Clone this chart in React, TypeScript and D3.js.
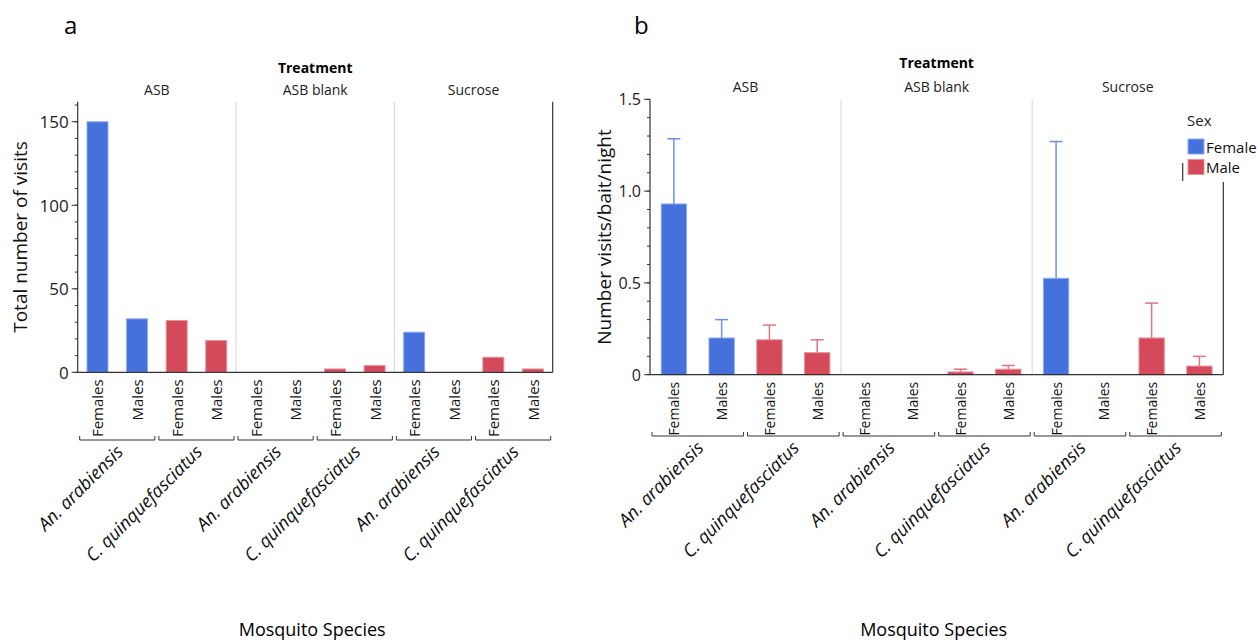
import React from "react";
import * as d3 from "d3";

// Categories
const treatments = ["ASB", "ASB blank", "Sucrose"];
const species = ["An. arabiensis", "C. quinquefasciatus"];
const sexes = ["Females", "Males"];
const legendLabels = ["Female", "Male"];

// Panel a: total number of visits (order: An. F, An. M, C. F, C. M)
const totalASB = [150, 32, 31, 19];
const totalBlank = [0, 0, 2, 4];
const totalSucrose = [24, 0, 9, 2];

// Panel b: mean visits per bait per night and upper error limit
const meanASB = [0.93, 0.2, 0.19, 0.12];
const meanBlank = [0, 0, 0.015, 0.03];
const meanSucrose = [0.525, 0, 0.2, 0.047];
const upperASB = [1.285, 0.3, 0.27, 0.19];
const upperBlank = [null, null, 0.03, 0.05];
const upperSucrose = [1.27, null, 0.39, 0.1];

const yTicksA = [0, 50, 100, 150];
const yTicksB = [0, 0.5, 1.0, 1.5];

const BLUE = "#4471dc";
const RED = "#d44a5a";
const BLUE_LIGHT = "#8eaaf0";
const RED_LIGHT = "#e8909a";
const BLUE_ERR = "#6b8ff0";
const RED_ERR = "#e07480";
const FONT = "'Open Sans', sans-serif";

type Row = { key: string; t: number; s: number; x: number; v: number; up: number | null };

function buildRows(vals: number[][], ups: (number | null)[][] | null): Row[] {
  const rows: Row[] = [];
  treatments.forEach((_, t) => {
    species.forEach((__, s) => {
      sexes.forEach((___, x) => {
        const i = s * 2 + x;
        rows.push({
          key: `${t}-${s}-${x}`,
          t,
          s,
          x,
          v: vals[t][i],
          up: ups ? ups[t][i] : null,
        });
      });
    });
  });
  return rows;
}

type PanelProps = {
  letter: string;
  letterX: number;
  x0: number;
  x1: number;
  yTop: number;
  yZero: number;
  yMax: number;
  rows: Row[];
  majorTicks: number[];
  minorStep: number;
  fmt: (v: number) => string;
  yTitle: string;
  yTitleX: number;
  tickFont: number;
  titleFont: number;
  catFont: number;
  speciesFont: number;
  treatY: number;
  headY: number;
  bracketY: number;
  borderTop: number;
  errors: boolean;
};

function Panel(p: PanelProps) {
  const y = d3.scaleLinear().domain([0, p.yMax]).range([p.yZero, p.yTop]);
  const keys = p.rows.map((r) => r.key);
  const x = d3
    .scaleBand<string>()
    .domain(keys)
    .range([p.x0, p.x1])
    .paddingInner(0.47)
    .paddingOuter(0.235);
  const step = x.step();
  const panelW = (p.x1 - p.x0) / treatments.length;
  const minor = d3.range(0, p.yMax + 1e-9, p.minorStep);
  const cx = (k: string) => (x(k) as number) + x.bandwidth() / 2;

  return (
    <g>
      <text x={p.letterX} y={34} fontSize={24} fontFamily={FONT} fill="#000">
        {p.letter}
      </text>
      {/* treatment header */}
      <text
        x={(p.x0 + p.x1) / 2}
        y={p.treatY}
        textAnchor="middle"
        dominantBaseline="central"
        fontSize={14}
        fontWeight="bold"
        fontFamily={FONT}
        fill="#000"
      >
        Treatment
      </text>
      {treatments.map((t, i) => (
        <text
          key={t}
          x={p.x0 + panelW * (i + 0.5)}
          y={p.headY}
          textAnchor="middle"
          dominantBaseline="central"
          fontSize={14}
          fontFamily={FONT}
          fill="#222"
        >
          {t}
        </text>
      ))}
      {/* panel separators */}
      {[1, 2].map((i) => (
        <line
          key={i}
          x1={p.x0 + panelW * i}
          x2={p.x0 + panelW * i}
          y1={p.yTop}
          y2={p.yZero}
          stroke="#dcdcdc"
          strokeWidth={1.2}
        />
      ))}
      {/* bars */}
      {p.rows.map((r) =>
        r.v > 0 ? (
          <rect
            key={r.key}
            x={x(r.key)}
            y={y(r.v)}
            width={x.bandwidth()}
            height={p.yZero - y(r.v)}
            fill={r.s === 0 ? BLUE : RED}
            stroke={r.s === 0 ? BLUE_LIGHT : RED_LIGHT}
            strokeWidth={1}
          />
        ) : null
      )}
      {/* error bars */}
      {p.errors &&
        p.rows.map((r) =>
          r.up != null ? (
            <g key={"e" + r.key} stroke={r.s === 0 ? BLUE_ERR : RED_ERR} strokeWidth={1.5}>
              <line x1={cx(r.key)} x2={cx(r.key)} y1={y(r.v)} y2={y(r.up)} />
              <line x1={cx(r.key) - 6.5} x2={cx(r.key) + 6.5} y1={y(r.up)} y2={y(r.up)} />
            </g>
          ) : null
        )}
      {/* y axis */}
      <line x1={p.x0} x2={p.x0} y1={p.yTop} y2={p.yZero} stroke="#333" strokeWidth={1.2} />
      {minor.map((v) => (
        <line key={"m" + v} x1={p.x0 - 3} x2={p.x0} y1={y(v)} y2={y(v)} stroke="#333" strokeWidth={1} />
      ))}
      {p.majorTicks.map((v) => (
        <g key={"t" + v}>
          <line x1={p.x0 - 6} x2={p.x0} y1={y(v)} y2={y(v)} stroke="#333" strokeWidth={1} />
          <text
            x={p.x0 - 9}
            y={y(v)}
            textAnchor="end"
            dominantBaseline="central"
            fontSize={p.tickFont}
            fontFamily={FONT}
            fill="#222"
          >
            {p.fmt(v)}
          </text>
        </g>
      ))}
      <text
        transform={`translate(${p.yTitleX},${(p.yTop + p.yZero) / 2}) rotate(-90)`}
        textAnchor="middle"
        dominantBaseline="central"
        fontSize={p.titleFont}
        fontFamily={FONT}
        fill="#111"
      >
        {p.yTitle}
      </text>
      {/* x axis and right border */}
      <line x1={p.x0} x2={p.x1} y1={p.yZero} y2={p.yZero} stroke="#333" strokeWidth={1.2} />
      <line x1={p.x1} x2={p.x1} y1={p.borderTop} y2={p.yZero} stroke="#333" strokeWidth={1.2} />
      {/* sex labels */}
      {p.rows.map((r) => (
        <text
          key={"l" + r.key}
          transform={`translate(${cx(r.key)},${p.yZero + 7}) rotate(-90)`}
          textAnchor="end"
          dominantBaseline="central"
          fontSize={p.catFont}
          fontFamily={FONT}
          fill="#111"
        >
          {sexes[r.x]}
        </text>
      ))}
      {/* species brackets and labels */}
      {treatments.map((_, t) =>
        species.map((sp, s) => {
          const gx0 = p.x0 + panelW * t + step * 2 * s + 2;
          const gx1 = gx0 + step * 2 - 4;
          const gc = (gx0 + gx1) / 2;
          return (
            <g key={`b${t}-${s}`}>
              <path
                d={`M${gx0},${p.bracketY - 4}V${p.bracketY}H${gx1}V${p.bracketY - 4}`}
                fill="none"
                stroke="#333"
                strokeWidth={1}
              />
              <text
                transform={`translate(${gc + 7},${p.bracketY + 13}) rotate(-45)`}
                textAnchor="end"
                fontSize={p.speciesFont}
                fontStyle="italic"
                fontFamily={FONT}
                fill="#111"
              >
                {sp}
              </text>
            </g>
          );
        })
      )}
      <text
        x={(p.x0 + p.x1) / 2 - 3}
        y={629}
        textAnchor="middle"
        dominantBaseline="central"
        fontSize={18}
        fontFamily={FONT}
        fill="#000"
      >
        Mosquito Species
      </text>
    </g>
  );
}

export default function App() {
  const rowsA = buildRows([totalASB, totalBlank, totalSucrose], null);
  const rowsB = buildRows([meanASB, meanBlank, meanSucrose], [upperASB, upperBlank, upperSucrose]);
  const legendColors = [BLUE, RED];
  return (
    <svg width={1257} height={641} style={{ position: "absolute", left: 0, top: 0, background: "#fff" }}>
      <rect width={1257} height={641} fill="#fff" />
      <Panel
        letter="a"
        letterX={64}
        x0={77.7}
        x1={552.7}
        yTop={101.7}
        yZero={372.3}
        yMax={162}
        rows={rowsA}
        majorTicks={yTicksA}
        minorStep={10}
        fmt={(v) => d3.format("d")(v)}
        yTitle="Total number of visits"
        yTitleX={20}
        tickFont={17}
        titleFont={19}
        catFont={15}
        speciesFont={18}
        treatY={67}
        headY={89}
        bracketY={440}
        borderTop={101.7}
        errors={false}
      />
      <Panel
        letter="b"
        letterX={634}
        x0={650}
        x1={1223.3}
        yTop={99.3}
        yZero={374.7}
        yMax={1.5}
        rows={rowsB}
        majorTicks={yTicksB}
        minorStep={0.1}
        fmt={(v) => (v === 0 ? "0" : d3.format(".1f")(v))}
        yTitle="Number visits/bait/night"
        yTitleX={604}
        tickFont={16}
        titleFont={19}
        catFont={14}
        speciesFont={18}
        treatY={62}
        headY={86}
        bracketY={436}
        borderTop={182}
        errors={true}
      />
      {/* legend */}
      <text x={1187} y={120} dominantBaseline="central" fontSize={15} fontFamily={FONT} fill="#222">
        Sex
      </text>
      {legendLabels.map((l, i) => (
        <g key={l}>
          <rect x={1188} y={139 + i * 20.5} width={16} height={15} fill={legendColors[i]} stroke={i === 0 ? BLUE_LIGHT : RED_LIGHT} />
          <text x={1206} y={146.5 + i * 20.5} dominantBaseline="central" fontSize={15} fontFamily={FONT} fill="#111">
            {l}
          </text>
        </g>
      ))}
      <line x1={1182.7} x2={1182.7} y1={163} y2={181} stroke="#333" strokeWidth={1.2} />
    </svg>
  );
}
